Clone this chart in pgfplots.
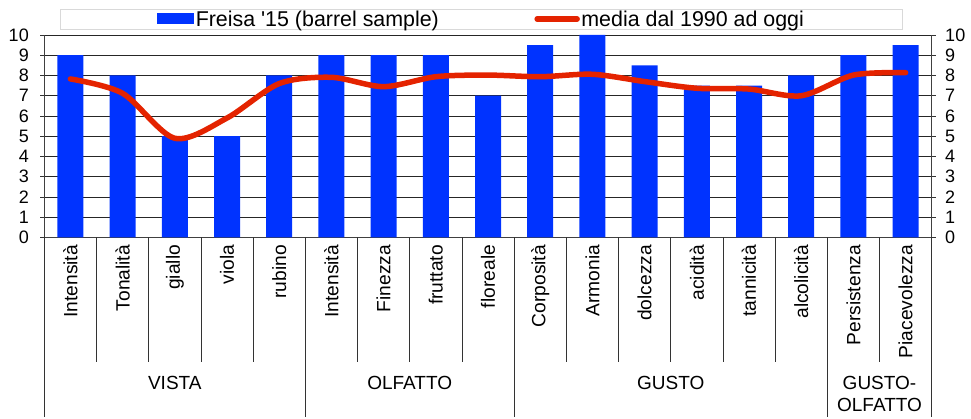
\documentclass[border=0pt]{standalone}
\usepackage{fontspec}
\setmainfont{Liberation Sans}[Ligatures=TeXOff]
\usepackage{pgfplots}
\pgfplotsset{compat=1.18}
\definecolor{barblue}{RGB}{0,51,255}
\definecolor{linered}{RGB}{228,35,0}
\begin{document}
\begin{tikzpicture}
\begin{axis}[
  scale only axis, width=887.4pt, height=202.5pt,
  xmin=-0.5, xmax=16.5, ymin=0, ymax=10,
  clip=false,
  axis x line*=bottom, axis y line*=left,
  axis line style={-, black!75, line width=0.8pt},
  ytick={0,1,...,10},
  xtick={0,1,...,16},
  xticklabels={Intensità,Tonalità,giallo,viola,rubino,Intensità,Finezza,fruttato,floreale,Corposità,Armonia,dolcezza,acidità,tannicità,alcolicità,Persistenza,Piacevolezza},
  xtick style={draw=none},
  xticklabel style={rotate=90, anchor=east, font=\fontsize{19.2}{19.2}\selectfont},
  /pgf/number format/assume math mode=true,
  yticklabel style={font=\fontsize{18}{18}\selectfont, xshift=-8pt},
  tick align=outside, major tick length=4pt,
  ytick style={black!80, line width=0.8pt},
  ymajorgrids, grid style={black!85, line width=0.8pt},
  legend columns=2,
  legend style={at={(0.4925,1.079)}, anchor=center, draw=black!15, line width=0.8pt,
    inner xsep=97pt, inner ysep=0pt,
    nodes={inner sep=1.5pt, font=\fontsize{21.4}{21.4}\selectfont},
    /tikz/every even column/.append style={column sep=94pt}},
]
\addplot[ybar, bar width=26pt, fill=barblue, draw=none,
  legend image code/.code={\fill[barblue] (0pt,-5.5pt) rectangle (37pt,5.5pt);}]
  coordinates {(0,9) (1,8) (2,5) (3,5) (4,8) (5,9) (6,9) (7,9) (8,7) (9,9.5) (10,10) (11,8.5) (12,7.5) (13,7.5) (14,8) (15,9) (16,9.5)};
\addlegendentry{Freisa '15 (barrel sample)}
\addplot[smooth, line width=5.5pt, color=linered, line cap=round, mark=none,
  legend image code/.code={\draw[linered, line width=5.5pt, line cap=round] (0pt,0pt) -- (40pt,0pt);}]
  coordinates {(0,7.83) (1,7.12) (2,4.9) (3,5.9) (4,7.6) (5,7.91) (6,7.45) (7,7.94) (8,8.02) (9,7.94) (10,8.06) (11,7.7) (12,7.37) (13,7.33) (14,7.0) (15,8.02) (16,8.14)};
\addlegendentry{media dal 1990 ad oggi}
\pgfplotsinvokeforeach{0.5,1.5,2.5,3.5,5.5,6.5,7.5,9.5,10.5,11.5,12.5,13.5,15.5}{
  \draw[black!80, line width=0.8pt] (axis cs:#1,0) -- ([yshift=-124.5pt]axis cs:#1,0);
}
\pgfplotsinvokeforeach{-0.5,4.5,8.5,14.5,16.5}{
  \draw[black!80, line width=0.8pt] (axis cs:#1,0) -- ([yshift=-179.5pt]axis cs:#1,0);
}
\node[font=\fontsize{19}{19}\selectfont] at ([yshift=-145.5pt]axis cs:2,0) {VISTA};
\node[font=\fontsize{19}{19}\selectfont] at ([yshift=-145.5pt]axis cs:6.5,0) {OLFATTO};
\node[font=\fontsize{19}{19}\selectfont] at ([yshift=-145.5pt]axis cs:11.5,0) {GUSTO};
\node[font=\fontsize{19}{22}\selectfont, align=center] at ([yshift=-156.5pt]axis cs:15.5,0) {GUSTO-\\OLFATTO};
\coordinate (bl) at (rel axis cs:0,0);
\coordinate (tr) at (rel axis cs:1,1);
\end{axis}
\begin{axis}[
  scale only axis, width=887.4pt, height=202.5pt,
  xmin=-0.5, xmax=16.5, ymin=0, ymax=10,
  axis x line=none, axis y line*=right,
  axis line style={-, black!75, line width=0.8pt},
  ytick={0,1,...,10},
  /pgf/number format/assume math mode=true,
  yticklabel style={font=\fontsize{18}{18}\selectfont, xshift=6pt},
  tick align=outside, major tick length=4pt,
  ytick style={black!80, line width=0.8pt},
]
\addplot[draw=none, forget plot] coordinates {(0,0)};
\end{axis}
\pgfresetboundingbox
\path ([xshift=-44.3pt,yshift=-181.5pt]bl) rectangle ([xshift=39.3pt,yshift=35pt]tr);
\end{tikzpicture}
\end{document}
